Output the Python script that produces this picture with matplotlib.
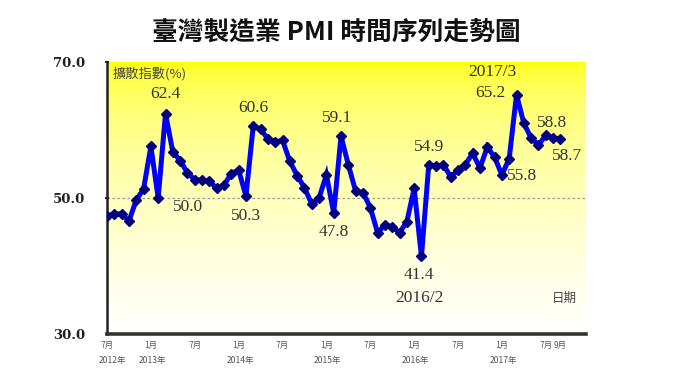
import numpy as np
import matplotlib
matplotlib.use("Agg")
import matplotlib.pyplot as plt

plt.rcParams['font.family'] = ['Noto Sans CJK TC', 'DejaVu Sans']

# Data: monthly PMI, Jul 2012 .. Sep 2017
pmi = [47.4, 47.6, 47.7, 46.6, 49.7, 51.3,            # 2012 Jul-Dec
       57.6, 50.0, 62.4, 56.8, 55.5, 53.7, 52.7, 52.6, 52.5, 51.4, 51.9, 53.6,  # 2013
       54.1, 50.3, 60.6, 60.1, 58.7, 58.2, 58.5, 55.4, 53.3, 51.5, 49.1, 50.0,  # 2014
       53.4, 47.8, 59.1, 54.9, 51.0, 50.8, 48.6, 44.9, 46.0, 45.8, 44.9, 46.5,  # 2015
       51.4, 41.4, 54.9, 54.7, 54.9, 53.1, 54.1, 54.9, 56.6, 54.4, 57.5, 56.0,  # 2016
       53.4, 55.8, 65.2, 61.0, 58.8, 57.8, 59.2, 58.8, 58.7]                    # 2017
month_tick_idx = [0, 6, 12, 18, 24, 30, 36, 42, 48, 54, 60, 62]
month_tick_labels = ['7月', '1月', '7月', '1月', '7月', '1月', '7月', '1月', '7月', '1月', '7月', '9月']
year_tick_idx = [0, 6, 18, 30, 42, 54]
year_tick_labels = ['2012年', '2013年', '2014年', '2015年', '2016年', '2017年']
y_ticks = [30.0, 50.0, 70.0]

# annotations: (month index, text, dx months, dy value)
annots = [(8, '62.4', 0.0, 2.9), (7, '50.0', 4.1, -1.3), (20, '60.6', 0.0, 2.6),
          (19, '50.3', 0.0, -2.9), (32, '59.1', -0.6, 2.6), (31, '47.8', 0.0, -2.8),
          (43, '41.4', -0.3, -2.7), (44, '54.9', 0.0, 2.6), (55, '55.8', 1.8, -2.5),
          (56, '65.2', -3.6, 0.2), (61, '58.8', -0.2, 2.3), (62, '58.7', 0.9, -2.5)]

W, H = 680, 383
fig = plt.figure(figsize=(W / 100, H / 100), dpi=100)
fig.patch.set_facecolor('white')

L, R, T, B = 107, 586, 62, 334
ax = fig.add_axes([L / W, 1 - B / H, (R - L) / W, (B - T) / H])

x = np.arange(len(pmi))
xmin, xmax = -0.0, 65.5
ax.set_xlim(xmin, xmax)
ax.set_ylim(30, 70)

# gradient background
t = np.linspace(0, 1, 256)[:, None]
blue = np.clip(t ** 0.45, 0, 1)
grad = np.dstack([np.ones_like(t), np.ones_like(t), blue])
ax.imshow(grad, extent=[xmin, xmax, 30, 70], aspect='auto', origin='upper', zorder=0)

ax.axhline(50, color='#999999', lw=0.9, ls=(0, (2, 2)), zorder=1)

ax.plot(x, pmi, color='#0000ff', lw=3.6, zorder=3, solid_joinstyle='miter')
ax.plot(x, pmi, ls='none', marker='D', ms=5.6, color='#000080', zorder=4)

tc = '#333333'
lfs = 12.5
for i, txt, dx, dy in annots:
    ax.text(i + dx, pmi[i] + dy, txt, family='Liberation Serif', fontsize=lfs,
            color=tc, ha='center', va='center', zorder=5)
ax.text(52.7, 68.5, '2017/3', family='Liberation Serif', fontsize=lfs, color=tc,
        ha='center', va='center', zorder=5)
ax.text(42.7, 35.3, '2016/2', family='Liberation Serif', fontsize=lfs, color=tc,
        ha='center', va='center', zorder=5)

ax.text(0.8, 68.2, '擴散指數(%)', fontsize=9.5, color='#444444', ha='left', va='center',
        family=['Noto Sans CJK TC', 'DejaVu Sans'])
ax.text(62.6, 35.3, '日期', fontsize=9, color='#444444', ha='center', va='center')

for s in ['top', 'right']:
    ax.spines[s].set_visible(False)
ax.spines['left'].set_linewidth(1.8)
ax.spines['left'].set_color('#222222')
ax.spines['bottom'].set_linewidth(2.6)
ax.spines['bottom'].set_color('#333333')
ax.spines['bottom'].set_bounds(xmin, xmax)

ax.set_yticks(y_ticks)
ax.set_yticklabels([f'{v:.1f}' for v in y_ticks], family='DejaVu Serif',
                   fontweight='bold', fontsize=9.5, color='#222222')
ax.tick_params(axis='y', length=3, width=1.2, pad=14, direction='inout')
ax.set_xticks([])

for i, lab in zip(month_tick_idx, month_tick_labels):
    ax.text(i, 28.3, lab, fontsize=6, color='#555555', ha='center', va='center',
            clip_on=False)
for i, lab in zip(year_tick_idx, year_tick_labels):
    ax.text(i + (0.8 if i == 0 else 0.2), 26.1, lab, fontsize=6.2, color='#555555',
            ha='center', va='center', clip_on=False)

fig.text(336 / W, 1 - 33 / H, '臺灣製造業 PMI 時間序列走勢圖', fontsize=18.5,
         fontweight='bold', ha='center', va='center', color='#111111')

fig.savefig('out.png', dpi=100, facecolor='white')
